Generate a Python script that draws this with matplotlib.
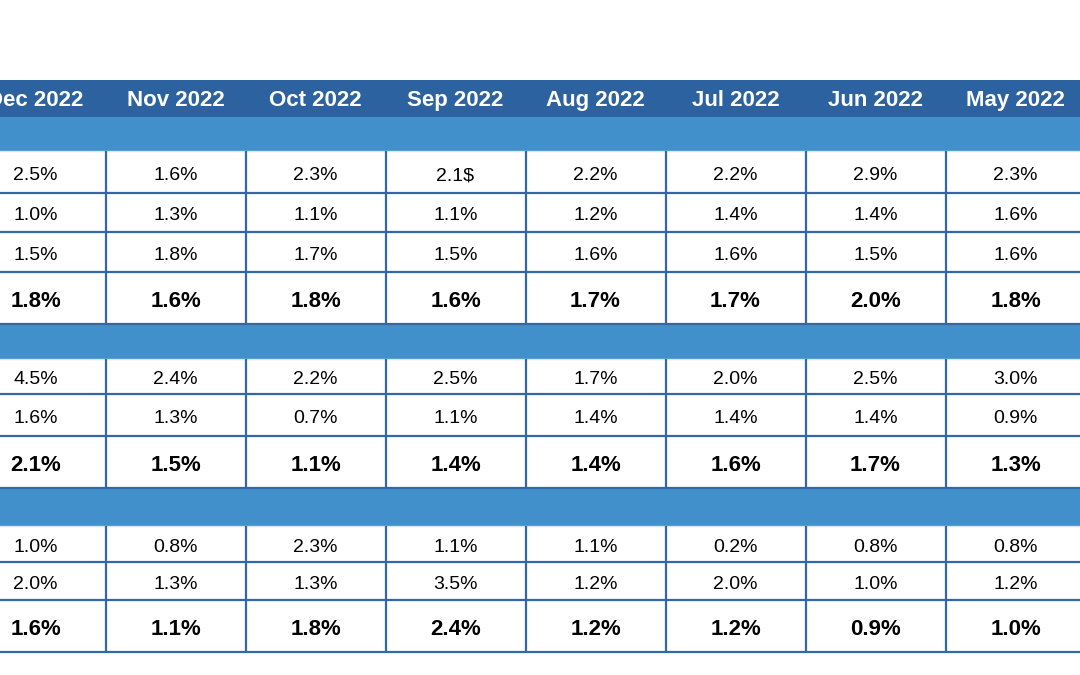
import matplotlib
matplotlib.use("Agg")
import matplotlib.pyplot as plt
from matplotlib.patches import Rectangle

plt.rcParams['font.family'] = ['Liberation Sans', 'DejaVu Sans']

# ---------------- data ----------------
months = ["Dec 2022", "Nov 2022", "Oct 2022", "Sep 2022",
          "Aug 2022", "Jul 2022", "Jun 2022", "May 2022"]

sec1_row1 = ["2.5%", "1.6%", "2.3%", "2.1$", "2.2%", "2.2%", "2.9%", "2.3%"]
sec1_row2 = ["1.0%", "1.3%", "1.1%", "1.1%", "1.2%", "1.4%", "1.4%", "1.6%"]
sec1_row3 = ["1.5%", "1.8%", "1.7%", "1.5%", "1.6%", "1.6%", "1.5%", "1.6%"]
sec1_total = ["1.8%", "1.6%", "1.8%", "1.6%", "1.7%", "1.7%", "2.0%", "1.8%"]

sec2_row1 = ["4.5%", "2.4%", "2.2%", "2.5%", "1.7%", "2.0%", "2.5%", "3.0%"]
sec2_row2 = ["1.6%", "1.3%", "0.7%", "1.1%", "1.4%", "1.4%", "1.4%", "0.9%"]
sec2_total = ["2.1%", "1.5%", "1.1%", "1.4%", "1.4%", "1.6%", "1.7%", "1.3%"]

sec3_row1 = ["1.0%", "0.8%", "2.3%", "1.1%", "1.1%", "0.2%", "0.8%", "0.8%"]
sec3_row2 = ["2.0%", "1.3%", "1.3%", "3.5%", "1.2%", "2.0%", "1.0%", "1.2%"]
sec3_total = ["1.6%", "1.1%", "1.8%", "2.4%", "1.2%", "1.2%", "0.9%", "1.0%"]

sections = [
    [(sec1_row1, False), (sec1_row2, False), (sec1_row3, False), (sec1_total, True)],
    [(sec2_row1, False), (sec2_row2, False), (sec2_total, True)],
    [(sec3_row1, False), (sec3_row2, False), (sec3_total, True)],
]

# ---------------- layout / style ----------------
W, H = 1080, 675
HEADER_COLOR = "#2D62A0"
BAND_COLOR = "#418FCB"
LINE_COLOR = "#3268A8"
col_x0 = -34.5
col_w = 140
header_top, header_h = 80, 37
band_heights = [34, 35, 38]
row_heights = [[42, 39, 40, 52], [35, 42, 52], [36, 38, 52]]

fig = plt.figure(figsize=(W / 100, H / 100), dpi=100)
ax = fig.add_axes([0, 0, 1, 1])
ax.set_xlim(0, W)
ax.set_ylim(H, 0)
ax.axis("off")

x_left = 0
x_right = W
ncols = len(months)
col_centers = [col_x0 + col_w * (i + 0.5) for i in range(ncols)]
col_bounds = [col_x0 + col_w * i for i in range(ncols + 1)]

# header
ax.add_patch(Rectangle((x_left, header_top), x_right - x_left, header_h,
                       facecolor=HEADER_COLOR, edgecolor="none"))
for cx, m in zip(col_centers, months):
    ax.text(cx, header_top + header_h / 2 + 2, m, ha="center", va="center",
            color="white", fontsize=16, fontweight="bold")

y = header_top + header_h
for sec, bh, rhs in zip(sections, band_heights, row_heights):
    # band
    ax.add_patch(Rectangle((x_left, y), x_right - x_left, bh,
                           facecolor=BAND_COLOR, edgecolor="none"))
    y += bh
    ax.plot([x_left, x_right], [y, y], color="#D6E4F2", lw=1.0)
    sec_top = y
    for (vals, bold), h in zip(sec, rhs):
        for cx, v in zip(col_centers, vals):
            ax.text(cx, y + h / 2 + 3.5, v, ha="center", va="center",
                    color="black", fontsize=16 if bold else 14,
                    fontweight="bold" if bold else "normal")
        y += h
        ax.plot([x_left, x_right], [y, y], color=LINE_COLOR, lw=1.6,
                solid_capstyle="butt")
    for bx in col_bounds:
        ax.plot([bx, bx], [sec_top, y], color=LINE_COLOR, lw=1.6,
                solid_capstyle="butt")

fig.savefig("out.png", dpi=100, facecolor="white")
